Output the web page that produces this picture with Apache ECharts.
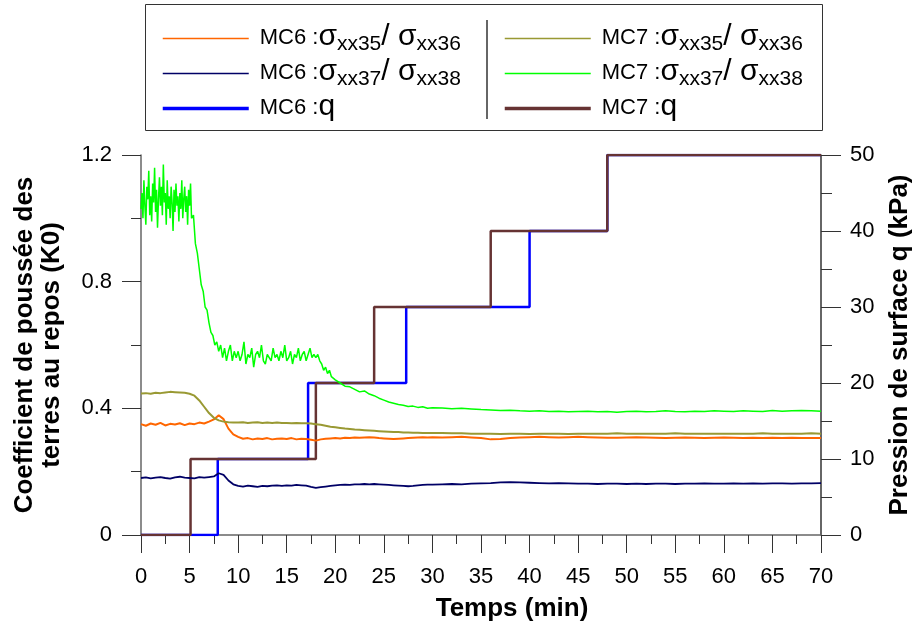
<!DOCTYPE html>
<html><head><meta charset="utf-8">
<script src="https://cdn.jsdelivr.net/npm/echarts@6/dist/echarts.min.js"></script>
<style>html,body{margin:0;padding:0;background:#fff}#c{width:915px;height:630px}</style>
</head><body><div id="c"></div><script>
// ---- time bases (min) ----
const tS = [0,0.5,1,1.5,2,2.5,3,3.5,4,4.5,5,5.5,6,6.5,7,7.5,8,8.5,9,9.5,10,10.5,11,11.5,12,12.5,13,13.5,14,14.5,15,15.5,16,16.5,17,17.5,18,18.5,19,19.5,20,20.5,21,21.5,22,22.5,23,23.5,24,24.5,25,25.5,26,26.5,27,27.5,28,28.5,29,29.5,30,31,32,33,34,35,36,37,38,39,40,41,42,43,44,45,46,47,48,49,50,51,52,53,54,55,56,57,58,59,60,61,62,63,64,65,66,67,68,69,70];
const tG = [0,0.1,0.2,0.3,0.4,0.5,0.6,0.7,0.8,0.9,1,1.1,1.2,1.3,1.4,1.5,1.6,1.7,1.8,1.9,2,2.1,2.2,2.3,2.4,2.5,2.6,2.7,2.8,2.9,3,3.1,3.2,3.3,3.4,3.5,3.6,3.7,3.8,3.9,4,4.1,4.2,4.3,4.4,4.5,4.6,4.7,4.8,4.9,5,5.1,5.2,
  5.4,5.6,5.8,6,6.2,6.4,6.6,6.8,7,7.2,7.4,7.6,7.8,8,8.2,8.4,8.6,8.8,9,9.2,9.4,9.6,9.8,10,10.2,10.4,10.6,10.8,11,11.2,11.4,11.6,11.8,12,12.2,12.4,12.6,12.8,13,13.2,13.4,13.6,13.8,14,14.2,14.4,14.6,14.8,15,15.2,15.4,15.6,15.8,16,16.2,16.4,16.6,16.8,17,17.2,17.4,17.6,17.8,18,18.2,18.4,18.6,18.8,19,19.2,19.4,19.6,19.8,20,
  20.5,21,21.5,22,22.5,23,23.5,24,24.5,25,25.5,26,26.5,27,27.5,28,28.5,29,29.5,30,31,32,33,34,35,36,37,38,39,40,41,42,43,44,45,46,47,48,49,50,51,52,53,54,55,56,57,58,59,60,61,62,63,64,65,66,67,68,69,70];

// ---- K0 ratios ----
const mc6_35_36 = [0.350,0.345,0.352,0.348,0.354,0.346,0.351,0.349,0.353,0.347,
  0.352,0.350,0.355,0.352,0.358,0.365,0.378,0.366,0.336,0.318,
  0.310,0.304,0.306,0.302,0.305,0.303,0.306,0.302,0.304,0.305,
  0.303,0.306,0.302,0.304,0.303,0.301,0.298,0.302,0.304,0.305,
  0.306,0.305,0.307,0.306,0.308,0.307,0.308,0.309,0.308,0.306,
  0.305,0.304,0.303,0.304,0.305,0.306,0.307,0.308,0.309,0.308,
  0.309,
  0.308,0.309,0.310,0.308,0.306,0.302,0.303,0.306,0.308,0.309,
  0.310,0.309,0.308,0.309,0.310,0.309,0.308,0.307,0.307,0.308,
  0.309,0.308,0.307,0.306,0.307,0.308,0.307,0.306,0.307,0.308,
  0.307,0.306,0.307,0.306,0.307,0.306,0.307,0.306,0.306,0.306];
const mc6_37_38 = [0.180,0.182,0.179,0.181,0.183,0.180,0.178,0.182,0.184,0.181,
  0.180,0.179,0.183,0.181,0.183,0.185,0.195,0.190,0.172,0.160,
  0.155,0.153,0.156,0.154,0.152,0.155,0.154,0.156,0.157,0.155,
  0.157,0.156,0.158,0.157,0.156,0.152,0.149,0.151,0.153,0.155,
  0.157,0.158,0.159,0.158,0.160,0.160,0.161,0.160,0.161,0.160,
  0.159,0.158,0.157,0.156,0.155,0.154,0.155,0.157,0.158,0.159,
  0.159,
  0.160,0.161,0.160,0.162,0.163,0.164,0.166,0.167,0.166,0.165,
  0.164,0.163,0.164,0.163,0.162,0.162,0.161,0.162,0.162,0.161,
  0.162,0.161,0.162,0.162,0.161,0.162,0.162,0.163,0.162,0.162,
  0.163,0.162,0.163,0.162,0.163,0.163,0.162,0.163,0.163,0.164];
const mc7_35_36 = [0.447,0.448,0.446,0.449,0.448,0.450,0.452,0.451,0.450,0.449,
  0.446,0.440,0.425,0.405,0.385,0.370,0.362,0.358,0.356,0.355,
  0.355,0.356,0.354,0.355,0.356,0.354,0.355,0.354,0.355,0.354,
  0.354,0.353,0.354,0.353,0.353,0.352,0.350,0.348,0.345,0.342,
  0.340,0.338,0.336,0.335,0.333,0.332,0.331,0.330,0.329,0.328,
  0.327,0.326,0.325,0.325,0.324,0.324,0.323,0.323,0.322,0.322,
  0.322,
  0.322,0.321,0.321,0.320,0.320,0.320,0.319,0.320,0.320,0.319,
  0.320,0.320,0.320,0.319,0.320,0.320,0.320,0.320,0.321,0.320,
  0.320,0.320,0.320,0.320,0.321,0.320,0.320,0.320,0.320,0.320,
  0.320,0.320,0.320,0.321,0.320,0.320,0.320,0.320,0.321,0.320];
const mc7_37_38 = [1.03,1.08,1.00,1.12,1.04,0.98,1.10,1.06,1.15,1.01,
  1.07,0.99,1.11,1.05,1.16,1.02,1.09,0.97,1.06,1.13,
  1.04,1.10,1.01,1.17,1.05,1.08,0.98,1.12,1.03,1.07,
  1.00,1.10,1.05,0.96,1.09,1.02,1.11,1.04,1.07,0.99,
  1.08,1.03,1.12,1.00,1.06,1.10,1.02,1.07,0.98,1.09,
  1.04,1.11,1.00,
  1.01,0.92,0.89,
  0.84,0.79,0.77,0.72,0.71,0.67,0.64,0.63,0.60,0.61,
  0.58,0.60,0.56,0.59,0.55,0.58,0.60,0.55,0.58,0.56,
  0.58,0.55,0.57,0.61,0.54,0.57,0.56,0.59,0.53,0.57,
  0.58,0.56,0.60,0.55,0.54,0.57,0.57,0.55,0.59,0.56,
  0.57,0.55,0.58,0.56,0.60,0.55,0.56,0.58,0.54,0.57,
  0.56,0.59,0.55,0.57,0.58,0.55,0.57,0.59,0.56,0.57,
  0.56,0.57,0.55,0.54,0.52,0.53,0.51,0.52,0.50,0.50,
  0.49,
  0.480,0.470,0.468,0.460,0.452,0.455,0.445,0.440,0.432,0.426,
  0.420,0.416,0.412,0.410,0.406,0.407,0.403,0.405,0.400,0.402,
  0.401,0.399,0.400,0.398,0.396,0.395,0.393,0.394,0.392,0.391,
  0.392,0.390,0.391,0.389,0.390,0.391,0.389,0.390,0.388,0.390,
  0.391,0.389,0.390,0.392,0.390,0.389,0.391,0.390,0.392,0.391,
  0.390,0.392,0.391,0.390,0.393,0.391,0.392,0.393,0.392,0.391];

// ---- surface pressure steps (kPa) ----
const mc6_qTimes = [0, 7.9, 17.2, 27.3, 40, 48, 70];
const mc6_q      = [0, 10, 20, 30, 40, 50, 50];
const mc7_qTimes = [0, 5.1, 18, 24, 36, 48, 70];
const mc7_q      = [0, 10, 20, 30, 40, 50, 50];

const SANS = '"Liberation Sans", Arial, sans-serif';
const NARROW = '"Liberation Sans Narrow", "Liberation Sans", Arial, sans-serif';
const pairs = (t, v) => t.map((x, i) => [x, v[i]]);

const labels = {
  'MC6 35': '{a|MC6 :}{s|σ}{b|xx35}{s|/ σ}{b|xx36}',
  'MC6 37': '{a|MC6 :}{s|σ}{b|xx37}{s|/ σ}{b|xx38}',
  'MC6 q':  '{a|MC6 :}{s|q}',
  'MC7 35': '{a|MC7 :}{s|σ}{b|xx35}{s|/ σ}{b|xx36}',
  'MC7 37': '{a|MC7 :}{s|σ}{b|xx37}{s|/ σ}{b|xx38}',
  'MC7 q':  '{a|MC7 :}{s|q}'
};
const rich = {
  a: {fontSize: 22, fontFamily: NARROW, color: '#000', verticalAlign: 'bottom', padding: [0,0,6,0]},
  s: {fontSize: 30, fontFamily: NARROW, color: '#000', verticalAlign: 'bottom', padding: [0,0,3,0]},
  b: {fontSize: 21, fontFamily: NARROW, color: '#000', verticalAlign: 'bottom', padding: [0,0,0,0]}
};
const legendBase = {
  orient: 'vertical', itemWidth: 86, itemHeight: 14, itemGap: 2,
  selectedMode: false, formatter: n => labels[n],
  itemStyle: {opacity: 0},
  textStyle: {rich: rich, padding: [0,0,0,6]}
};
const thin = name => ({name, lineStyle: {width: 1.3}});
const thick = name => ({name, lineStyle: {width: 3.5}});

const lineS = (name, data, color, w, yIdx) => ({
  name, type: 'line', data, yAxisIndex: yIdx, symbol: 'none', showSymbol: false,
  lineStyle: {color, width: w}, itemStyle: {color}, animation: false, silent: true
});

const chart = echarts.init(document.getElementById('c'));
chart.setOption({
  animation: false,
  backgroundColor: '#fff',
  grid: {left: 141, right: 94, top: 155, bottom: 95, containLabel: false, outerBoundsMode: 'none'},
  legend: [
    Object.assign({}, legendBase, {left: 156, top: 17, data: [thin('MC6 35'), thin('MC6 37'), thick('MC6 q')]}),
    Object.assign({}, legendBase, {left: 498, top: 17, data: [thin('MC7 35'), thin('MC7 37'), thick('MC7 q')]})
  ],
  graphic: [
    {type: 'rect', shape: {x: 145.5, y: 4.5, width: 677, height: 126}, style: {fill: 'none', stroke: '#333', lineWidth: 1}, silent: true},
    {type: 'line', shape: {x1: 487, y1: 20, x2: 487, y2: 119}, style: {stroke: '#333', lineWidth: 1.5}, silent: true}
  ],
  xAxis: {
    type: 'value', min: 0, max: 70, interval: 5,
    name: 'Temps (min)', nameLocation: 'middle', nameGap: 61,
    nameTextStyle: {fontFamily: SANS, fontWeight: 'bold', fontSize: 26, color: '#000', padding: [0,0,0,62]},
    axisLine: {lineStyle: {color: '#666', width: 1.5}},
    axisTick: {length: 18, lineStyle: {color: '#333', width: 1}},
    minorTick: {show: true, splitNumber: 2, length: 9, lineStyle: {color: '#333', width: 1}},
    axisLabel: {margin: 31, fontFamily: NARROW, fontSize: 22, color: '#000'},
    splitLine: {show: false}, minorSplitLine: {show: false}
  },
  yAxis: [
    {
      type: 'value', min: 0, max: 1.2, interval: 0.4, position: 'left',
      name: 'Coefficient de poussée des\nterres au repos (K0)', nameLocation: 'middle', nameGap: 76,
      nameTextStyle: {fontFamily: SANS, fontWeight: 'bold', fontSize: 26, lineHeight: 27, color: '#000'},
      axisLine: {show: true, lineStyle: {color: '#666', width: 1.5}},
      axisTick: {show: true, length: 19, lineStyle: {color: '#333', width: 1}},
      minorTick: {show: true, splitNumber: 2, length: 10, lineStyle: {color: '#333', width: 1}},
      axisLabel: {margin: 29, fontFamily: SANS, fontSize: 22, color: '#000'},
      splitLine: {show: false}
    },
    {
      type: 'value', min: 0, max: 50, interval: 10, position: 'right',
      name: 'Pression de surface q (kPa)', nameLocation: 'middle', nameGap: 66,
      nameTextStyle: {fontFamily: SANS, fontWeight: 'bold', fontSize: 26, color: '#000'},
      axisLine: {show: true, lineStyle: {color: '#333', width: 1.5}},
      axisTick: {show: true, length: 20, lineStyle: {color: '#333', width: 1}},
      minorTick: {show: true, splitNumber: 2, length: 11, lineStyle: {color: '#333', width: 1}},
      axisLabel: {margin: 29, fontFamily: SANS, fontSize: 22, color: '#000'},
      splitLine: {show: false}
    }
  ],
  series: [
    Object.assign(lineS('MC6 q', pairs(mc6_qTimes, mc6_q), '#0000ff', 2.5, 1), {step: 'end'}),
    Object.assign(lineS('MC7 q', pairs(mc7_qTimes, mc7_q), '#663333', 2.5, 1), {step: 'end'}),
    lineS('MC6 35', pairs(tS, mc6_35_36), '#ff6600', 2, 0),
    lineS('MC6 37', pairs(tS, mc6_37_38), '#000066', 1.8, 0),
    lineS('MC7 35', pairs(tS, mc7_35_36), '#999933', 2, 0),
    lineS('MC7 37', pairs(tG, mc7_37_38), '#00ff00', 1.5, 0)
  ]
});
</script></body></html>
